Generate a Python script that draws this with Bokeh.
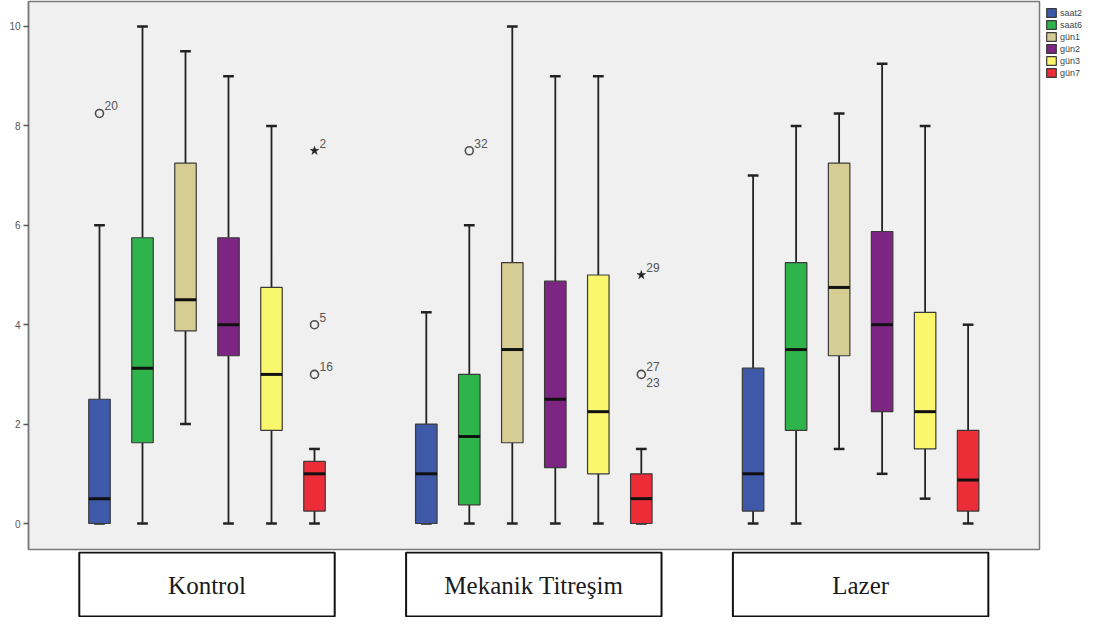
from bokeh.plotting import figure
from bokeh.models import Range1d, ColumnDataSource, Legend, LegendItem, FixedTicker
from bokeh.layouts import column
from bokeh.core.properties import value
from bokeh.embed import file_html
from bokeh.resources import INLINE

# ---------------- data ----------------
groups = ["Kontrol", "Mekanik Titreşim", "Lazer"]
series = ["saat2", "saat6", "gün1", "gün2", "gün3", "gün7"]
colors = ["#3d59a8", "#2fb34b", "#d6cd95", "#7c2583", "#fbf76c", "#ec2c37"]

# rows: Kontrol, Mekanik Titreşim, Lazer ; columns: series order
whisker_low = [
    [0, 0, 2, 0, 0, 0],
    [0, 0, 0, 0, 0, 0],
    [0, 0, 1.5, 1, 0.5, 0],
]
q1 = [
    [0, 1.625, 3.875, 3.375, 1.875, 0.25],
    [0, 0.375, 1.625, 1.125, 1.0, 0],
    [0.25, 1.875, 3.375, 2.25, 1.5, 0.25],
]
median = [
    [0.5, 3.125, 4.5, 4.0, 3.0, 1.0],
    [1.0, 1.75, 3.5, 2.5, 2.25, 0.5],
    [1.0, 3.5, 4.75, 4.0, 2.25, 0.875],
]
q3 = [
    [2.5, 5.75, 7.25, 5.75, 4.75, 1.25],
    [2.0, 3.0, 5.25, 4.875, 5.0, 1.0],
    [3.125, 5.25, 7.25, 5.875, 4.25, 1.875],
]
whisker_high = [
    [6, 10, 9.5, 9, 8, 1.5],
    [4.25, 6, 10, 9, 9, 1.5],
    [7, 8, 8.25, 9.25, 8, 4],
]

# outliers (group index, series index, value, marker, case label)
out_group = [0, 0, 0, 0, 1, 1, 1]
out_series = [0, 5, 5, 5, 1, 5, 5]
out_value = [8.25, 7.5, 4.0, 3.0, 7.5, 5.0, 3.0]
out_marker = ["circle", "star", "circle", "circle", "circle", "star", "circle"]
out_label = ["20", "2", "5", "16", "32", "29", "27"]
# second case label written below a shared point
low_label_group = [1]
low_label_series = [5]
low_label_value = [3.0]
low_label_text = ["23"]

y_ticks = [0, 2, 4, 6, 8, 10]

# ---------------- layout constants ----------------
GROUP_GAP = 7.6
BOX_W = 0.5
CAP_W = 0.25
NS = len(series)


def xpos(g, s):
    return g * GROUP_GAP + (s - (NS - 1) / 2)


p = figure(
    frame_width=1011, frame_height=548,
    x_range=Range1d(-4.151, 19.36), y_range=Range1d(-0.523, 10.503),
    output_backend="svg", toolbar_location=None,
    min_border_left=28, min_border_right=54, min_border_top=1, min_border_bottom=2,
    x_axis_location=None,
    background_fill_color="#f0f0f0", border_fill_color="white",
    outline_line_color="#7a7a7a", outline_line_width=1.5,
)
p.grid.visible = False

yax = p.yaxis[0]
yax.ticker = FixedTicker(ticks=y_ticks)
yax.minor_tick_line_color = None
yax.major_tick_in = 0
yax.major_tick_out = 5
yax.major_tick_line_color = "#555555"
yax.major_tick_line_width = 1.5
yax.axis_line_color = "#7a7a7a"
yax.axis_line_width = 1.5
yax.major_label_text_font = "Liberation Sans"
yax.major_label_text_font_size = "10px"
yax.major_label_text_color = "#555555"
yax.major_label_standoff = 3

items = []
for si, name in enumerate(series):
    xs = [xpos(g, si) for g in range(len(groups))]
    lo = [whisker_low[g][si] for g in range(len(groups))]
    a = [q1[g][si] for g in range(len(groups))]
    m = [median[g][si] for g in range(len(groups))]
    b_ = [q3[g][si] for g in range(len(groups))]
    hi = [whisker_high[g][si] for g in range(len(groups))]
    src = ColumnDataSource(dict(
        x=xs, lo=lo, q1=a, med=m, q3=b_, hi=hi,
        l=[x - BOX_W / 2 for x in xs], r=[x + BOX_W / 2 for x in xs],
        cl=[x - CAP_W / 2 for x in xs], cr=[x + CAP_W / 2 for x in xs],
    ))
    # whiskers
    p.segment("x", "q3", "x", "hi", source=src, line_color="#222222", line_width=1.8)
    p.segment("x", "lo", "x", "q1", source=src, line_color="#222222", line_width=1.8)
    # caps
    p.segment("cl", "hi", "cr", "hi", source=src, line_color="#222222", line_width=2.5)
    p.segment("cl", "lo", "cr", "lo", source=src, line_color="#222222", line_width=2.5)
    # box
    r = p.quad(left="l", right="r", bottom="q1", top="q3", source=src,
               fill_color=colors[si], line_color="#3a3a3a", line_width=1.2)
    # median
    p.segment("l", "med", "r", "med", source=src, line_color="#111111", line_width=3)
    items.append(LegendItem(label=name, renderers=[r]))

# outliers
ox = [xpos(g, s) for g, s in zip(out_group, out_series)]
circ = [i for i, mk in enumerate(out_marker) if mk == "circle"]
star = [i for i, mk in enumerate(out_marker) if mk == "star"]
p.scatter(x=[ox[i] for i in circ], y=[out_value[i] for i in circ], marker="circle", size=8,
          fill_color=None, line_color="#4d4d4d", line_width=1.6)
p.scatter(x=[ox[i] for i in star], y=[out_value[i] for i in star], marker="star", size=9,
          fill_color="#222222", line_color="#222222", line_width=0.5)
p.text(x=ox, y=out_value, text=out_label, x_offset=5, y_offset=-3,
       text_baseline="bottom", text_align="left",
       text_font=value("Liberation Sans"), text_font_size="12px", text_color="#555555")
lx = [xpos(g, s) for g, s in zip(low_label_group, low_label_series)]
p.text(x=lx, y=low_label_value, text=low_label_text, x_offset=5, y_offset=4,
       text_baseline="top", text_align="left",
       text_font=value("Liberation Sans"), text_font_size="12px", text_color="#555555")

legend = Legend(items=items, location="top_left", margin=6, padding=0, spacing=1,
                glyph_width=12, glyph_height=11, label_height=11, label_standoff=3,
                label_text_font="Liberation Sans", label_text_font_size="9px",
                label_text_color="#444444", border_line_color=None,
                background_fill_alpha=0)
p.add_layout(legend, "right")

# ---------------- group label boxes below ----------------
bx = figure(
    frame_width=1011, frame_height=66,
    x_range=p.x_range, y_range=Range1d(66, 0),
    output_backend="svg", toolbar_location=None,
    min_border_left=28, min_border_right=54, min_border_top=0, min_border_bottom=0,
    x_axis_location=None, y_axis_location=None,
    outline_line_color=None, background_fill_color="white", border_fill_color="white",
)
bx.grid.visible = False
gc = [g * GROUP_GAP for g in range(len(groups))]
HALF = 2.97
bx.quad(left=[c - HALF for c in gc], right=[c + HALF for c in gc], top=1, bottom=65,
        fill_color="white", line_color="#111111", line_width=2)
bx.text(x=gc, y=34, text=groups, text_align="center", text_baseline="alphabetic",
        text_font=value("Liberation Serif"), text_font_size="25px", text_color="#1a1a1a")

layout = column(p, bx, spacing=0)
open("out.html", "w").write(file_html(layout, INLINE))
